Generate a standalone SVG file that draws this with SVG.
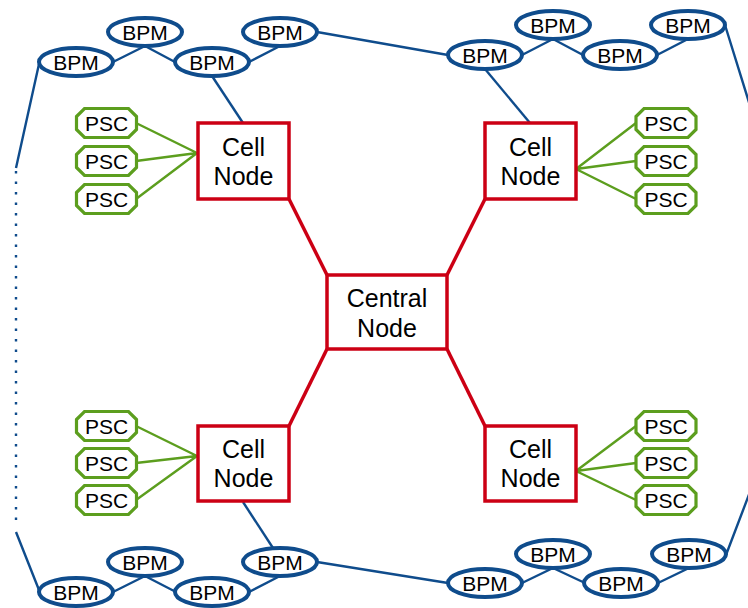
<svg xmlns="http://www.w3.org/2000/svg" width="748" height="608" viewBox="0 0 748 608">
  <style>
    .bpm ellipse { fill: #fff; stroke: #0f4c8c; stroke-width: 4; }
    .psc use { fill: #fff; stroke: #5c9e1e; stroke-width: 3.2; }
    .node rect { fill: #fff; stroke: #cc0014; stroke-width: 3.5; }
    text { font-family: "Liberation Sans", Arial, sans-serif; fill: #000; text-anchor: middle; }
    .bpm text, .psc text { font-size: 21px; }
    .node text { font-size: 25px; }
    .blue { stroke: #0f4c8c; stroke-width: 2.4; fill: none; }
    .green { stroke: #5c9e1e; stroke-width: 2.4; fill: none; }
    .red { stroke: #cc0014; stroke-width: 3.5; fill: none; }
    .dots { stroke: #0f4c8c; stroke-width: 2.4; fill: none; stroke-dasharray: 2.4 8.1; }
  </style>
  <defs>
    <path id="oct" d="M-22,-14.5 H22 L30,-6.5 V6.5 L22,14.5 H-22 L-30,6.5 V-6.5 Z"/>
  </defs>

  <!-- connectors -->
  <g id="connectors">
    <!-- backbone: central to cell nodes -->
    <line class="red" x1="289" y1="199" x2="327" y2="275"/>
    <line class="red" x1="485" y1="199" x2="447" y2="275"/>
    <line class="red" x1="289" y1="426" x2="327" y2="349"/>
    <line class="red" x1="485" y1="426" x2="447" y2="349"/>

    <!-- PSC fan-outs -->
    <path class="green" d="M136,123 L197,153 M136,161 L197,153 M136,199 L197,153"/>
    <path class="green" d="M636,123 L576,169 M636,161 L576,169 M636,199 L576,169"/>
    <path class="green" d="M136,426 L197,456 M136,463 L197,456 M136,500 L197,456"/>
    <path class="green" d="M636,426 L576,471 M636,463 L576,471 M636,500 L576,471"/>

    <!-- top BPM chain -->
    <path class="blue" d="M16,168 L39,64 M113,62 L145,46 L175,62 M249,62 L280,46 M317,32 L448,55 M522,55 L553,39 L583,55 M657,55 L688,39 M725,25 L752,112"/>
    <line class="blue" x1="212" y1="76" x2="243" y2="123"/>
    <line class="blue" x1="485" y1="69" x2="530" y2="123"/>

    <!-- bottom BPM chain -->
    <path class="blue" d="M16,532 L39,590 M113,592 L145,576 L176,592 M249,592 L280,576 M317,562 L448,583 M522,583 L553,568 L585,583 M658,583 L689,568 M726,555 L753,484"/>
    <line class="blue" x1="243" y1="502" x2="273" y2="548"/>

    <!-- ring continues off the page -->
    <line class="dots" x1="16" y1="171" x2="16" y2="526"/>
  </g>

  <!-- central node -->
  <g id="central" class="node">
    <rect x="327" y="275" width="120" height="74"/>
    <text x="387" y="307">Central</text>
    <text x="387" y="337">Node</text>
  </g>

  <!-- cell nodes -->
  <g id="cell-tl" class="node">
    <rect x="198" y="123" width="91" height="76"/>
    <text x="243.5" y="156">Cell</text>
    <text x="243.5" y="185">Node</text>
  </g>
  <g id="cell-tr" class="node">
    <rect x="485" y="123" width="91" height="76"/>
    <text x="530.5" y="156">Cell</text>
    <text x="530.5" y="185">Node</text>
  </g>
  <g id="cell-bl" class="node">
    <rect x="198" y="426" width="91" height="75"/>
    <text x="243.5" y="458">Cell</text>
    <text x="243.5" y="487">Node</text>
  </g>
  <g id="cell-br" class="node">
    <rect x="485" y="426" width="91" height="75"/>
    <text x="530.5" y="458">Cell</text>
    <text x="530.5" y="487">Node</text>
  </g>

  <!-- power supply controllers -->
  <g id="psc-tl-1" class="psc"><use href="#oct" x="106.5" y="123"/><text x="106.5" y="130.5">PSC</text></g>
  <g id="psc-tl-2" class="psc"><use href="#oct" x="106.5" y="161"/><text x="106.5" y="168.5">PSC</text></g>
  <g id="psc-tl-3" class="psc"><use href="#oct" x="106.5" y="199"/><text x="106.5" y="206.5">PSC</text></g>
  <g id="psc-tr-1" class="psc"><use href="#oct" x="666" y="123"/><text x="666" y="130.5">PSC</text></g>
  <g id="psc-tr-2" class="psc"><use href="#oct" x="666" y="161"/><text x="666" y="168.5">PSC</text></g>
  <g id="psc-tr-3" class="psc"><use href="#oct" x="666" y="199"/><text x="666" y="206.5">PSC</text></g>
  <g id="psc-bl-1" class="psc"><use href="#oct" x="106.5" y="426"/><text x="106.5" y="433.5">PSC</text></g>
  <g id="psc-bl-2" class="psc"><use href="#oct" x="106.5" y="463"/><text x="106.5" y="470.5">PSC</text></g>
  <g id="psc-bl-3" class="psc"><use href="#oct" x="106.5" y="500"/><text x="106.5" y="507.5">PSC</text></g>
  <g id="psc-br-1" class="psc"><use href="#oct" x="666" y="426"/><text x="666" y="433.5">PSC</text></g>
  <g id="psc-br-2" class="psc"><use href="#oct" x="666" y="463"/><text x="666" y="470.5">PSC</text></g>
  <g id="psc-br-3" class="psc"><use href="#oct" x="666" y="500"/><text x="666" y="507.5">PSC</text></g>

  <!-- beam position monitors, top -->
  <g id="bpm-t1" class="bpm"><ellipse cx="76" cy="62" rx="37" ry="14"/><text x="76" y="69.5">BPM</text></g>
  <g id="bpm-t2" class="bpm"><ellipse cx="145" cy="32" rx="37" ry="14"/><text x="145" y="39.5">BPM</text></g>
  <g id="bpm-t3" class="bpm"><ellipse cx="212" cy="62" rx="37" ry="14"/><text x="212" y="69.5">BPM</text></g>
  <g id="bpm-t4" class="bpm"><ellipse cx="280" cy="32" rx="37" ry="14"/><text x="280" y="39.5">BPM</text></g>
  <g id="bpm-t5" class="bpm"><ellipse cx="485" cy="55" rx="37" ry="14"/><text x="485" y="62.5">BPM</text></g>
  <g id="bpm-t6" class="bpm"><ellipse cx="553" cy="25" rx="37" ry="14"/><text x="553" y="32.5">BPM</text></g>
  <g id="bpm-t7" class="bpm"><ellipse cx="620" cy="55" rx="37" ry="14"/><text x="620" y="62.5">BPM</text></g>
  <g id="bpm-t8" class="bpm"><ellipse cx="688" cy="25" rx="37" ry="14"/><text x="688" y="32.5">BPM</text></g>

  <!-- beam position monitors, bottom -->
  <g id="bpm-b1" class="bpm"><ellipse cx="76" cy="592" rx="37" ry="14"/><text x="76" y="599.5">BPM</text></g>
  <g id="bpm-b2" class="bpm"><ellipse cx="145" cy="562" rx="37" ry="14"/><text x="145" y="569.5">BPM</text></g>
  <g id="bpm-b3" class="bpm"><ellipse cx="212" cy="592" rx="37" ry="14"/><text x="212" y="599.5">BPM</text></g>
  <g id="bpm-b4" class="bpm"><ellipse cx="280" cy="562" rx="37" ry="14"/><text x="280" y="569.5">BPM</text></g>
  <g id="bpm-b5" class="bpm"><ellipse cx="485" cy="583" rx="37" ry="14"/><text x="485" y="590.5">BPM</text></g>
  <g id="bpm-b6" class="bpm"><ellipse cx="553" cy="554" rx="37" ry="14"/><text x="553" y="561.5">BPM</text></g>
  <g id="bpm-b7" class="bpm"><ellipse cx="621" cy="583" rx="37" ry="14"/><text x="621" y="590.5">BPM</text></g>
  <g id="bpm-b8" class="bpm"><ellipse cx="689" cy="554" rx="37" ry="14"/><text x="689" y="561.5">BPM</text></g>
</svg>
